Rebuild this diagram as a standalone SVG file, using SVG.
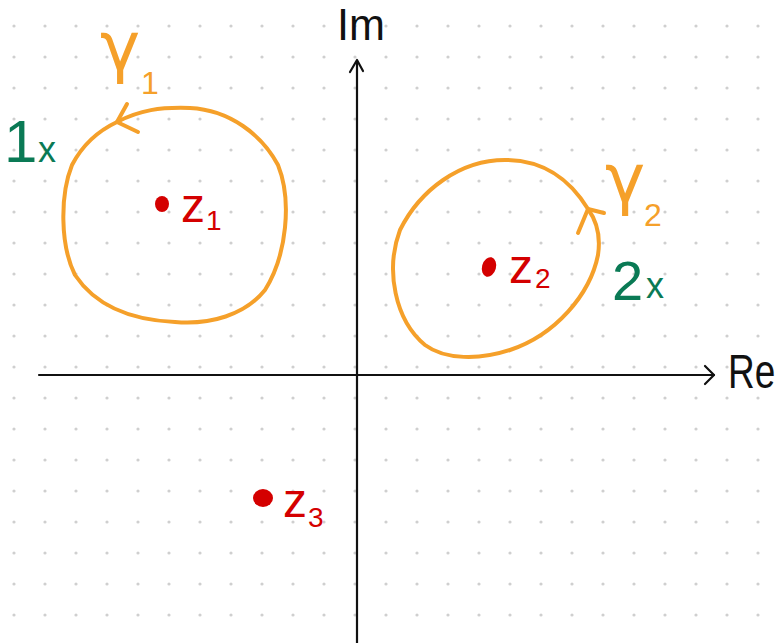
<svg xmlns="http://www.w3.org/2000/svg" width="781" height="643" viewBox="0 0 781 643">
<defs>
<pattern id="dots" x="14" y="26" width="31" height="31" patternUnits="userSpaceOnUse">
<circle cx="0" cy="0" r="1.6" fill="#cfcfcf"/>
<circle cx="31" cy="0" r="1.6" fill="#cfcfcf"/>
<circle cx="0" cy="31" r="1.6" fill="#cfcfcf"/>
<circle cx="31" cy="31" r="1.6" fill="#cfcfcf"/>
</pattern>
<style>
.axis{fill:none;stroke:#111;stroke-width:2.2;stroke-linecap:round;stroke-linejoin:round}
.curve{fill:none;stroke:#F5A02A;stroke-width:4;stroke-linecap:round;stroke-linejoin:round}
.lbl{font-family:"Liberation Sans",Arial,sans-serif}
.gam{font-family:"DejaVu Sans",sans-serif;fill:#F5A02A}
.ax{fill:#111}
.or{fill:#F5A02A}
.gr{fill:#0A7A55}
.rd{fill:#D40000}
.pt{fill:#D40000}
</style>
</defs>
<rect width="781" height="643" fill="#fff"/>
<rect x="0" y="0" width="781" height="643" fill="url(#dots)"/>
<g id="connectors">
<path class="axis" d="M39 375 L714 375"/>
<path class="axis" d="M705 366 L714 375 L705 384"/>
<path class="axis" d="M357 643 L357 61"/>
<path class="axis" d="M350 72 L357 60 L363 71"/>
</g>
<g id="axis-labels">
<text class="lbl ax" x="337" y="40" font-size="44" textLength="48" lengthAdjust="spacingAndGlyphs">Im</text>
<text class="lbl ax" transform="translate(728 388) scale(1 1.3)" font-size="37">Re</text>
</g>
<g id="gamma1">
<path class="curve" d="M117 122 C140 110 160 107 190 108 C230 110 262 135 278 165 C292 200 287 255 265 290 C245 315 210 325 175 322 C130 320 95 305 75 275 C60 245 60 195 72 165 C84 142 100 130 117 122"/>
<path class="curve" d="M127 104 L117 122 L138 132"/>
<text class="gam" x="100" y="70" font-size="68">γ</text>
<text class="lbl or" x="141" y="94" font-size="32">1</text>
<text class="lbl gr" x="4" y="162" font-size="60">1</text>
<text class="lbl gr" x="38" y="162" font-size="36">x</text>
</g>
<g id="gamma2">
<path class="curve" d="M588 209 C570 180 545 160 505 160 C460 160 420 190 400 230 C385 270 395 320 425 345 C445 360 480 360 510 350 C555 335 590 295 598 255 C601 235 596 220 588 209"/>
<path class="curve" d="M578 233 L588 209 L604 213"/>
<text class="gam" x="605" y="202" font-size="68">γ</text>
<text class="lbl or" x="644" y="226" font-size="32">2</text>
<text class="lbl gr" x="612" y="300" font-size="56">2</text>
<text class="lbl gr" x="646" y="298" font-size="36">x</text>
</g>
<g id="z1">
<ellipse class="pt" cx="162" cy="204" rx="7" ry="8"/>
<text class="lbl rd" x="181" y="222" font-size="48">z</text>
<text class="lbl rd" x="206" y="230" font-size="28">1</text>
</g>
<g id="z2">
<ellipse class="pt" cx="489" cy="267" rx="7" ry="10" transform="rotate(15 489 267)"/>
<text class="lbl rd" x="509" y="283" font-size="48">z</text>
<text class="lbl rd" x="535" y="288" font-size="28">2</text>
</g>
<g id="z3">
<ellipse class="pt" cx="263" cy="498" rx="10" ry="9"/>
<text class="lbl rd" x="283" y="517" font-size="48">z</text>
<text class="lbl rd" x="308" y="527" font-size="28">3</text>
</g>
</svg>
